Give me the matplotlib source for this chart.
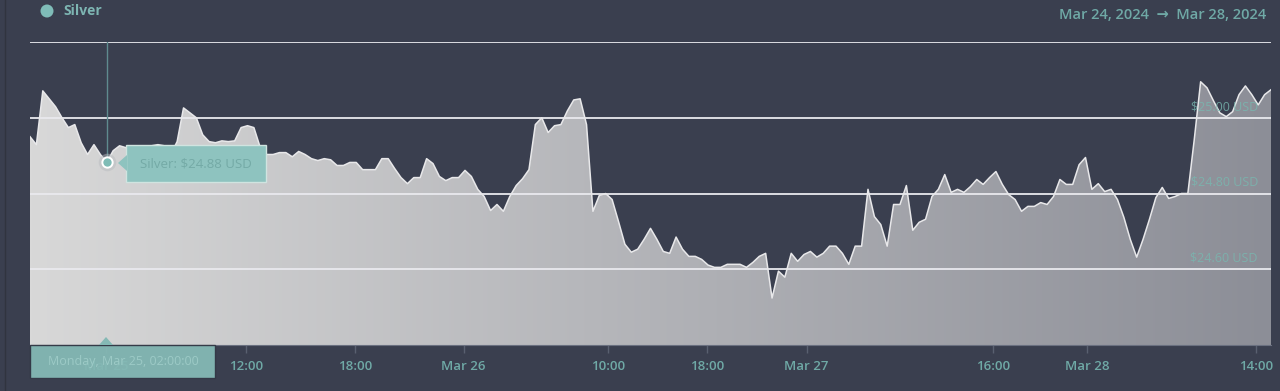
import numpy as np
import matplotlib
matplotlib.use('Agg')
import matplotlib.pyplot as plt
from matplotlib.patches import Rectangle, Polygon, Ellipse
from matplotlib.colors import LinearSegmentedColormap
from matplotlib.lines import Line2D

plt.rcParams['font.family'] = ['Open Sans', 'DejaVu Sans']

# silver price, USD (one sample per slot on the ordinal time axis)
prices = [
    24.950, 24.929, 25.071, 25.050, 25.029, 25.000, 24.974, 24.982, 24.934, 24.903,
    24.929, 24.903, 24.882, 24.913, 24.926, 24.921, 24.916, 24.911, 24.921, 24.926,
    24.929, 24.926, 24.903, 24.937, 25.026, 25.013, 25.000, 24.955, 24.937, 24.934,
    24.939, 24.937, 24.939, 24.974, 24.979, 24.974, 24.921, 24.903, 24.903, 24.908,
    24.908, 24.897, 24.911, 24.903, 24.892, 24.887, 24.892, 24.889, 24.874, 24.874,
    24.882, 24.882, 24.863, 24.863, 24.863, 24.892, 24.892, 24.866, 24.842, 24.826,
    24.842, 24.842, 24.892, 24.879, 24.845, 24.834, 24.842, 24.842, 24.861, 24.845,
    24.811, 24.792, 24.755, 24.771, 24.753, 24.792, 24.821, 24.839, 24.863, 24.982,
    25.000, 24.961, 24.979, 24.982, 25.018, 25.047, 25.050, 24.982, 24.753, 24.795,
    24.800, 24.784, 24.726, 24.666, 24.645, 24.653, 24.679, 24.708, 24.679, 24.647,
    24.642, 24.685, 24.653, 24.634, 24.634, 24.626, 24.611, 24.605, 24.605, 24.613,
    24.613, 24.613, 24.605, 24.618, 24.634, 24.642, 24.524, 24.595, 24.579, 24.642,
    24.621, 24.639, 24.647, 24.632, 24.642, 24.661, 24.661, 24.642, 24.613, 24.661,
    24.661, 24.811, 24.739, 24.718, 24.661, 24.771, 24.771, 24.821, 24.703, 24.724,
    24.732, 24.792, 24.811, 24.850, 24.803, 24.811, 24.803, 24.818, 24.837, 24.824,
    24.842, 24.858, 24.824, 24.797, 24.784, 24.753, 24.766, 24.766, 24.776, 24.771,
    24.792, 24.837, 24.824, 24.824, 24.876, 24.895, 24.811, 24.826, 24.805, 24.811,
    24.784, 24.737, 24.679, 24.632, 24.679, 24.732, 24.789, 24.816, 24.787, 24.792,
    24.800, 24.800, 24.942, 25.095, 25.079, 25.045, 25.013, 25.003, 25.016, 25.061,
    25.084, 25.061, 25.034, 25.061, 25.074,
]
tick_labels = ['Mar 25', '12:00', '18:00', 'Mar 26', '10:00', '18:00',
               'Mar 27', '16:00', 'Mar 28', '14:00']
tick_slots = [11.9, 33.75, 50.8, 67.8, 90.3, 105.8, 121.4, 150.6, 165.3, 191.6]
grid_levels = [25.20, 25.00, 24.80, 24.60]
level_labels = ['', '$25.00 USD', '$24.80 USD', '$24.60 USD']
hover_idx = 12

BG = '#3a3f4f'
TEAL = '#6fa9a6'
W, H = 1280, 391


def px(x, y):
    return (x / W, 1 - y / H)


x = np.arange(len(prices))
y = np.array(prices)
ymin, ymax = 24.40, 25.20

fig = plt.figure(figsize=(12.8, 3.91), dpi=100, facecolor=BG)
l, b = px(30, 345)
r, t = px(1271, 42)
ax = fig.add_axes([l, b, r - l, t - b])
ax.set_facecolor(BG)
ax.set_xlim(0, len(prices) - 1)
ax.set_ylim(ymin, ymax)

# gradient area under the line
cmap = LinearSegmentedColormap.from_list('g', ['#d8d8d8', '#8c8e97'], N=1024)
grad = np.linspace(0, 1, 1241).reshape(1, -1)
im = ax.imshow(grad, cmap=cmap, aspect='auto', extent=[0, len(prices) - 1, ymin, ymax],
               zorder=1, interpolation='nearest')
poly = ax.fill_between(x, y, ymin, facecolor='none', edgecolor='none')
im.set_clip_path(poly.get_paths()[0], transform=ax.transData)
ax.plot(x, y, color='#e8e8ea', lw=1.1, zorder=3)

for lev, lab in zip(grid_levels, level_labels):
    ax.axhline(lev, color='#e9e9ee', lw=1.3, zorder=2)
    if lab:
        ax.text(0.9895, lev + 0.012, lab, transform=ax.get_yaxis_transform(),
                ha='right', va='bottom', fontsize=9, color='#78b8b0', alpha=0.8, zorder=4)

# hover line + point
ax.plot([hover_idx, hover_idx], [y[hover_idx], ymax], color='#5f8b8f', lw=1, zorder=4)
ax.scatter([hover_idx], [y[hover_idx]], s=160, color='#b9bcc0', alpha=0.5, zorder=4, lw=0)
ax.scatter([hover_idx], [y[hover_idx]], s=55, color='#7fbcb6', edgecolor='white', lw=1.4, zorder=5)

for s in ['top', 'left', 'right']:
    ax.spines[s].set_visible(False)
ax.spines['bottom'].set_color('#6a7080')
ax.set_yticks([])
ax.set_xticks(tick_slots)
ax.set_xticklabels(tick_labels)
ax.tick_params(axis='x', length=6, width=1, color='#596070', pad=5,
               labelsize=9.5, labelcolor=TEAL)
for lbl in ax.get_xticklabels():
    lbl.set_fontweight('semibold')

# tooltip at the point
fig.patches.append(Rectangle(px(126, 182), 140 / W, 37 / H, transform=fig.transFigure,
                             facecolor='#8ec3bf', edgecolor='#d0e4e0', lw=1, zorder=5))
fig.patches.append(Polygon([px(127, 155), px(118, 163), px(127, 171)], closed=True,
                           transform=fig.transFigure, facecolor='#8ec3bf',
                           edgecolor='none', zorder=6))
fig.text(*px(196, 164), 'Silver: $24.88 USD', ha='center', va='center',
         fontsize=9.5, color='#74aaa6', zorder=7)

# tooltip on the time axis
fig.patches.append(Rectangle(px(30, 378), 185 / W, 33 / H, transform=fig.transFigure,
                             facecolor='#85b9b5', edgecolor='#323644', lw=1, alpha=0.95, zorder=5))
fig.patches.append(Polygon([px(99, 345), px(106, 337), px(113, 345)], closed=True,
                           transform=fig.transFigure, facecolor='#85b9b5',
                           edgecolor='none', zorder=6))
fig.text(*px(123, 362), 'Monday, Mar 25, 02:00:00', ha='center', va='center',
         fontsize=9, color='#9ccac6', zorder=7)

# legend + date range
fig.patches.append(Ellipse(px(47, 11), 13 / W, 13 / H, transform=fig.transFigure,
                           facecolor='#7fbcb8', edgecolor='none', zorder=5))
fig.text(*px(63, 11), 'Silver', ha='left', va='center', fontsize=10,
         fontweight='bold', color='#7db5b2')
fig.text(*px(1266, 15), 'Mar 24, 2024  \u2192  Mar 28, 2024', ha='right', va='center',
         fontsize=10.5, fontweight='semibold', color=TEAL)
fig.lines.append(Line2D([5 / W, 5 / W], [0, 1], transform=fig.transFigure,
                        color='#30343f', lw=1))

fig.savefig('out.png', dpi=100, facecolor=BG)
